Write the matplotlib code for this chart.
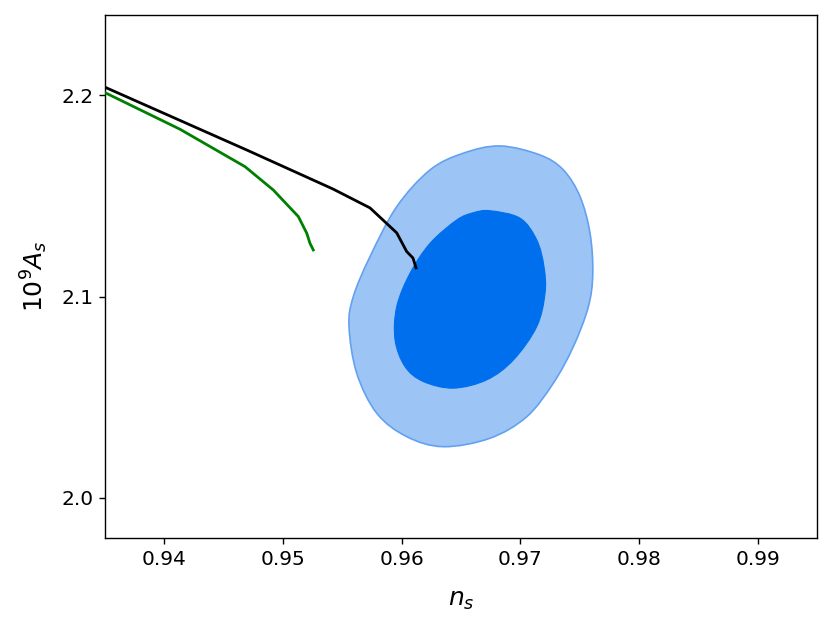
import numpy as np
import matplotlib
matplotlib.use("Agg")
import matplotlib.pyplot as plt
from matplotlib.path import Path
from matplotlib.patches import PathPatch

# contour outlines (n_s, 10^9 A_s)
outer_ns = [0.96829, 0.97166, 0.97362, 0.97503, 0.97587, 0.97610, 0.97573, 0.97446,
            0.97278, 0.97054, 0.96744, 0.96351, 0.96042, 0.95790, 0.95621, 0.95556,
            0.95592, 0.95733, 0.95958, 0.96239, 0.96519]
outer_As = [2.1749, 2.1704, 2.1630, 2.1497, 2.1315, 2.1116, 2.0950, 2.0751,
            2.0570, 2.0403, 2.0296, 2.0254, 2.0304, 2.0420, 2.0619, 2.0851,
            2.1000, 2.1199, 2.1447, 2.1630, 2.1713]
inner_ns = [0.96744, 0.96997, 0.97138, 0.97199, 0.97208, 0.97138, 0.96941, 0.96716,
            0.96435, 0.96182, 0.96028, 0.95944, 0.95958, 0.96070, 0.96239, 0.96464,
            0.96604]
inner_As = [2.1427, 2.1390, 2.1282, 2.1149, 2.1017, 2.0851, 2.0685, 2.0586,
            2.0545, 2.0578, 2.0652, 2.0785, 2.0950, 2.1116, 2.1265, 2.1381,
            2.1417]

black_ns = [0.9330, 0.9350, 0.94694, 0.95421, 0.95733, 0.95958, 0.96042, 0.96095, 0.96121]
black_As = [2.2080, 2.2041, 2.1729, 2.1535, 2.1441, 2.1317, 2.1224, 2.1192, 2.1143]
green_ns = [0.9330, 0.9350, 0.94132, 0.94680, 0.94918, 0.95129, 0.95200, 0.95227, 0.95255]
green_As = [2.2060, 2.2014, 2.1832, 2.1646, 2.1530, 2.1398, 2.1315, 2.1265, 2.1232]

xticks = [0.94, 0.95, 0.96, 0.97, 0.98, 0.99]
yticks = [2.0, 2.1, 2.2]


def smooth_closed_path(xs, ys):
    """Closed Catmull-Rom outline expressed as cubic Bezier path segments."""
    P = np.column_stack([xs, ys])
    n = len(P)
    verts = [P[0]]
    codes = [Path.MOVETO]
    for i in range(n):
        p0, p1, p2, p3 = P[i - 1], P[i], P[(i + 1) % n], P[(i + 2) % n]
        c1 = p1 + (p2 - p0) / 6.0
        c2 = p2 - (p3 - p1) / 6.0
        verts += [c1, c2, p2]
        codes += [Path.CURVE4] * 3
    verts.append(P[0])
    codes.append(Path.CLOSEPOLY)
    return Path(verts, codes)


fig = plt.figure(figsize=(8.31, 6.31), dpi=100)
ax = fig.add_axes([0.1264, 0.1474, 0.8568, 0.8288])

ax.add_patch(PathPatch(smooth_closed_path(outer_ns, outer_As), facecolor="#9CC5F6",
                       edgecolor="#63A1F0", lw=1.2, zorder=1))
ax.add_patch(PathPatch(smooth_closed_path(inner_ns, inner_As), facecolor="#006FED",
                       edgecolor="#006FED", lw=0.8, zorder=2))

ax.plot(black_ns, black_As, color="black", lw=2.0, zorder=3)
ax.plot(green_ns, green_As, color="green", lw=2.0, zorder=3)

ax.set_xlim(0.935, 0.995)
ax.set_ylim(1.98, 2.24)
ax.set_xticks(xticks)
ax.set_xticklabels([f"{t:.2f}" for t in xticks])
ax.set_yticks(yticks)
ax.set_yticklabels([f"{t:.1f}" for t in yticks])
for s in ax.spines.values():
    s.set_linewidth(1.0)
ax.tick_params(labelsize=14.5, length=4.3, width=1, pad=4)
ax.set_xlabel(r"$n_s$", fontsize=18, labelpad=14)
ax.set_ylabel(r"$10^9 A_s$", fontsize=18, labelpad=8)

fig.savefig("out.png", dpi=100)
